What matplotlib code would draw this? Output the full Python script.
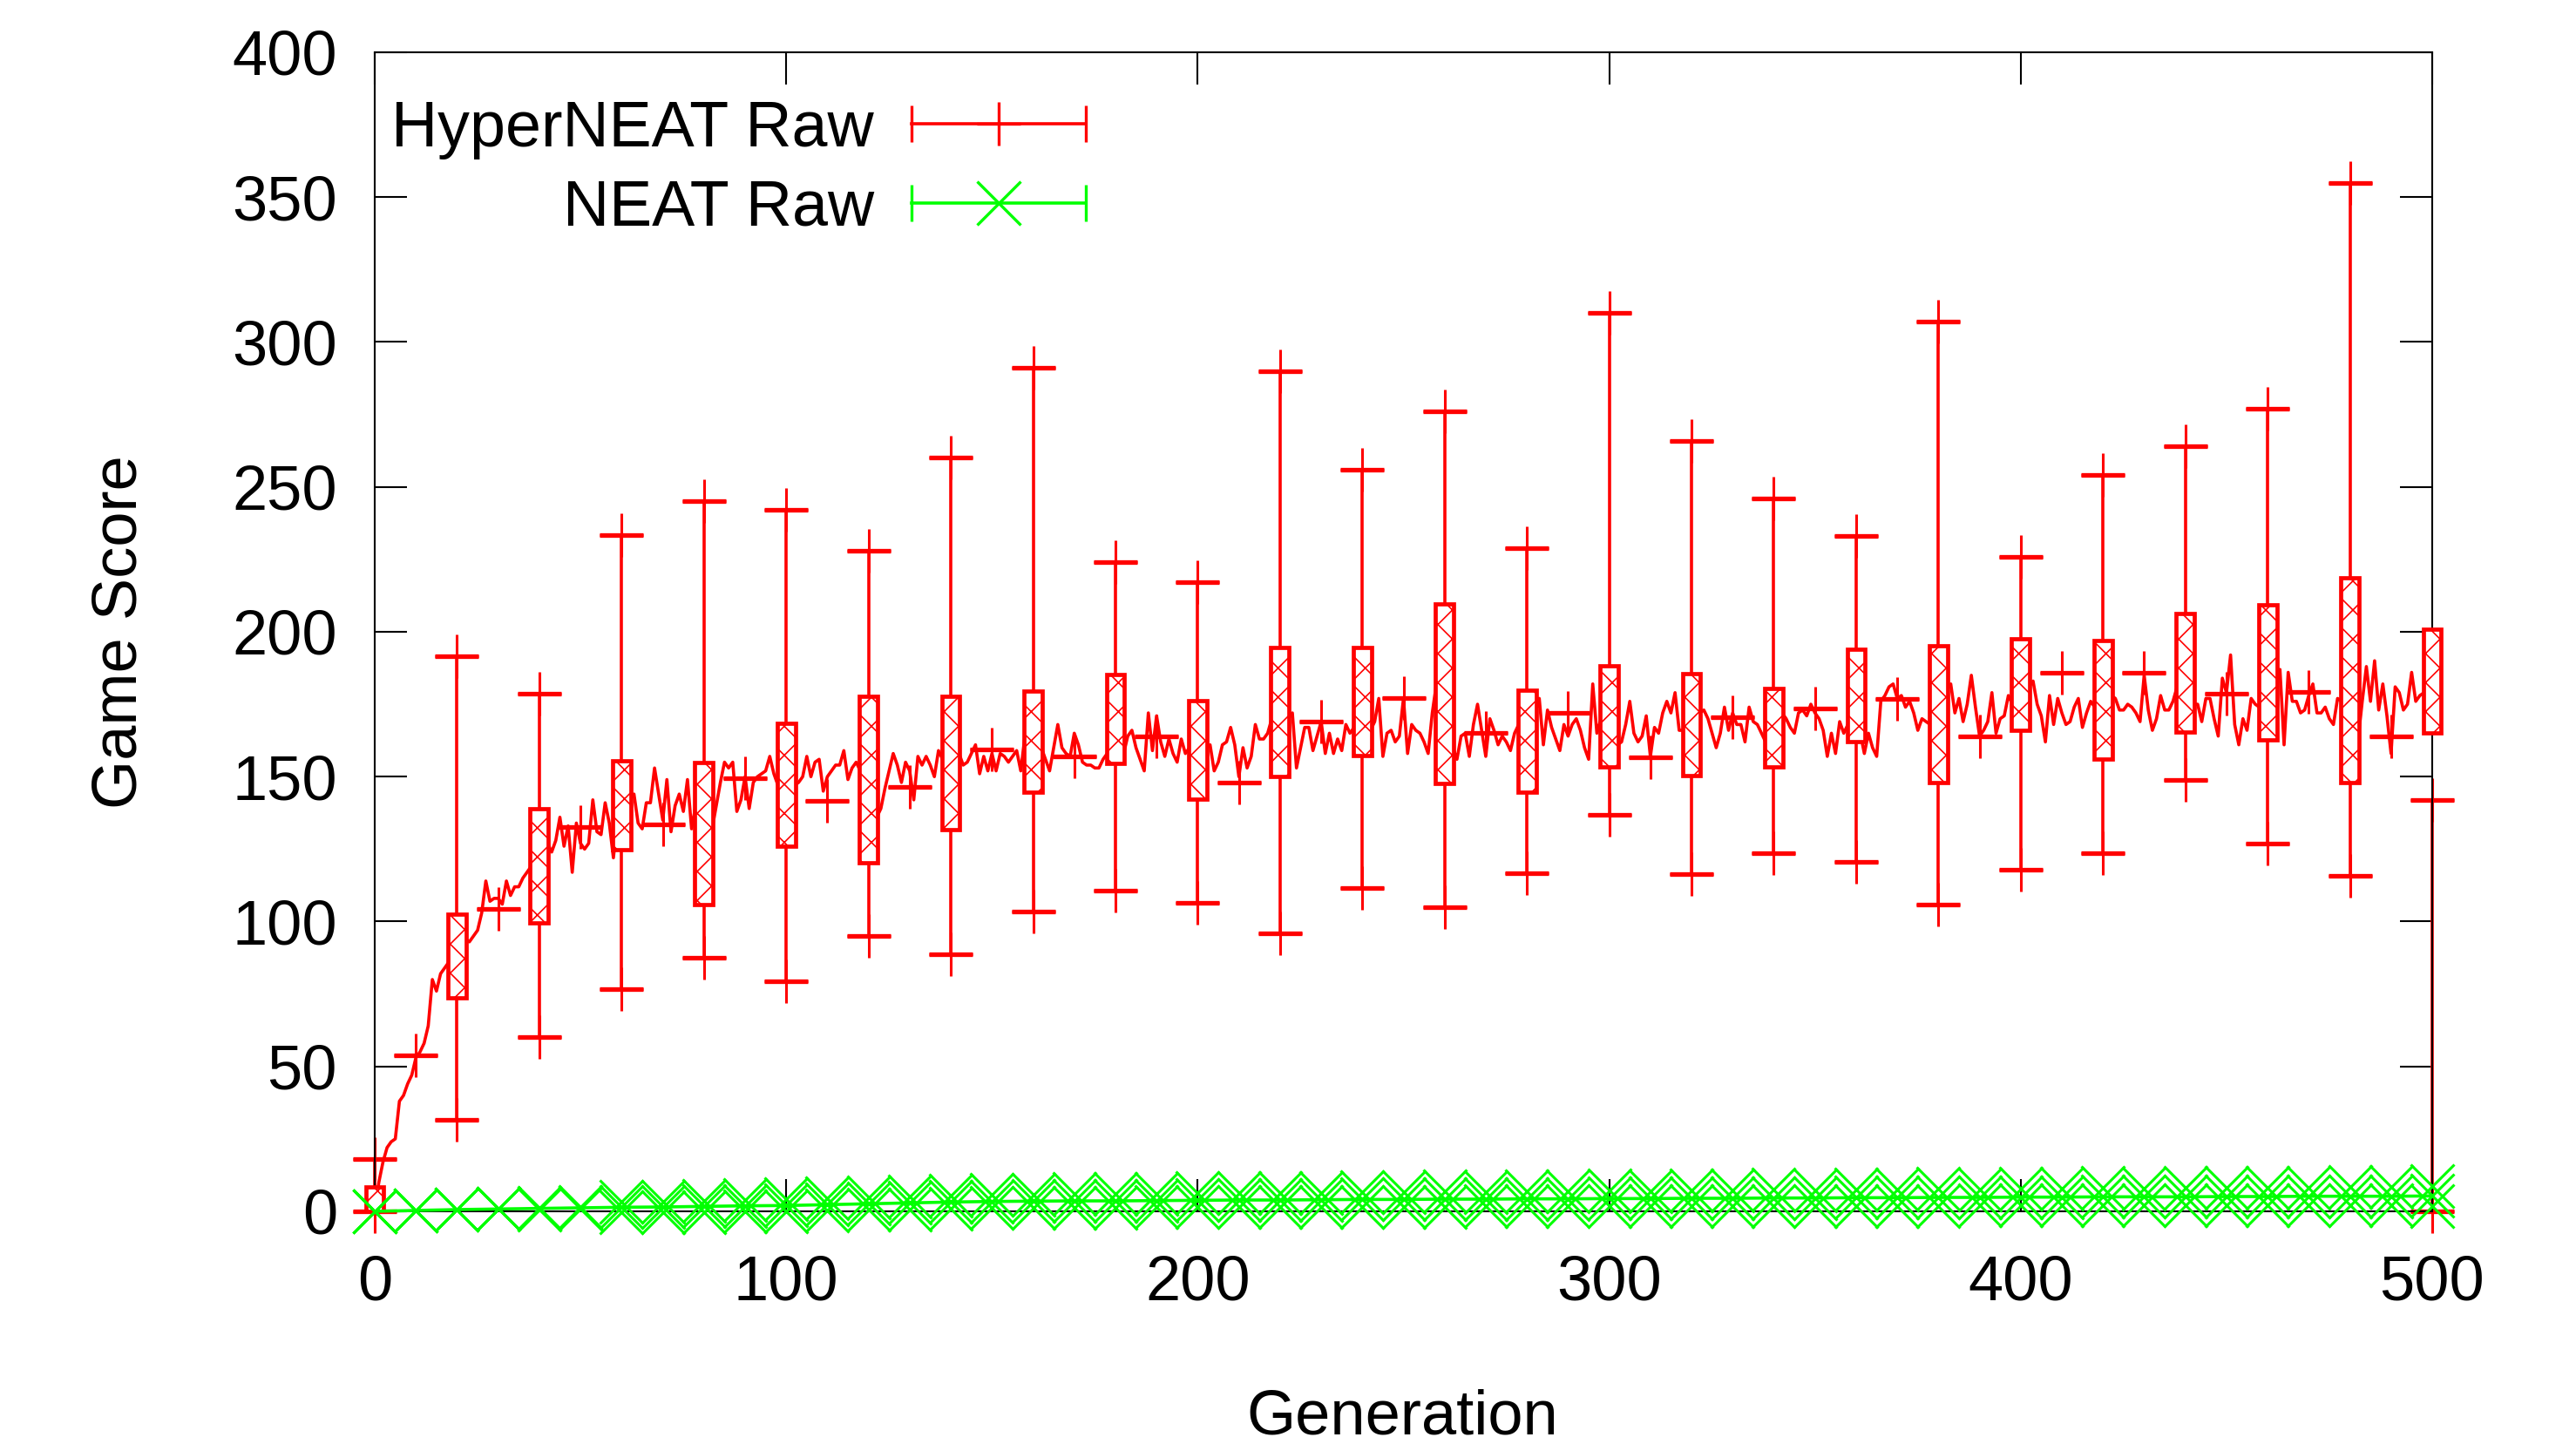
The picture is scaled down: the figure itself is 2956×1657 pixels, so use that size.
import numpy as np
import matplotlib
matplotlib.use("Agg")
import matplotlib.pyplot as plt
from matplotlib.patches import Rectangle

plt.rcParams['font.family'] = ['Liberation Sans', 'DejaVu Sans']
plt.rcParams['hatch.linewidth'] = 0.6

RED = '#ff0000'
GREEN = '#00ff00'

# HyperNEAT raw: mean score for every generation 0..500
hn_mean = [
    1, 10, 17, 22, 24, 25, 38, 40, 44, 47, 53, 55, 58, 64, 80, 76, 82, 84, 86, 88,
    90, 91, 94, 93, 95, 97, 103, 114, 107, 108, 108, 106, 114, 109, 112, 112, 115, 117, 119, 122,
    126, 128, 127, 124, 128, 136, 126, 133, 117, 134, 127, 125, 127, 142, 131, 130, 141, 134, 122, 135,
    140, 138, 142, 144, 134, 132, 141, 141, 153, 144, 135, 149, 131, 140, 144, 138, 149, 132, 140, 142,
    138, 136, 132, 140, 148, 155, 153, 155, 138, 142, 150, 139, 148, 150, 151, 152, 157, 151, 147, 150,
    148, 152, 147, 148, 150, 157, 150, 155, 156, 145, 150, 152, 154, 154, 159, 149, 153, 155, 152, 150,
    148, 146, 136, 139, 146, 152, 158, 154, 148, 155, 152, 142, 157, 154, 157, 154, 150, 159, 156, 155,
    157, 158, 158, 154, 155, 158, 161, 151, 157, 152, 158, 152, 158, 157, 155, 157, 159, 152, 164, 160,
    160, 158, 160, 156, 152, 160, 168, 160, 158, 157, 165, 161, 155, 154, 154, 153, 153, 156, 158, 160,
    162, 160, 158, 164, 166, 160, 156, 152, 172, 159, 171, 162, 157, 163, 158, 155, 163, 158, 160, 158,
    160, 161, 160, 161, 152, 155, 161, 162, 167, 161, 150, 160, 153, 157, 168, 163, 163, 165, 170, 168,
    166, 168, 170, 172, 153, 160, 167, 167, 159, 164, 169, 158, 165, 158, 163, 159, 168, 165, 167, 166,
    165, 168, 166, 169, 177, 157, 165, 166, 162, 164, 177, 158, 168, 166, 165, 162, 158, 172, 182, 175,
    168, 162, 160, 156, 164, 165, 157, 168, 175, 166, 157, 170, 166, 161, 164, 162, 159, 165, 168, 166,
    165, 168, 172, 177, 161, 173, 167, 163, 159, 168, 164, 168, 170, 166, 160, 156, 182, 165, 170, 168,
    166, 164, 161, 162, 168, 176, 165, 162, 164, 171, 157, 167, 165, 172, 176, 172, 179, 166, 166, 170,
    172, 174, 172, 173, 170, 165, 160, 165, 174, 166, 172, 168, 168, 162, 174, 169, 168, 165, 162, 168,
    170, 172, 172, 170, 167, 165, 172, 173, 171, 175, 172, 170, 166, 157, 165, 158, 169, 165, 168, 170,
    172, 165, 158, 165, 160, 157, 176, 178, 181, 182, 177, 178, 174, 176, 172, 166, 170, 169, 168, 172,
    175, 178, 180, 182, 172, 177, 169, 175, 185, 174, 164, 166, 169, 179, 165, 170, 171, 178, 175, 176,
    178, 180, 181, 183, 175, 171, 162, 178, 168, 177, 172, 168, 169, 174, 177, 167, 172, 176, 174, 175,
    176, 177, 178, 177, 173, 173, 175, 174, 172, 169, 185, 173, 166, 170, 178, 173, 173, 176, 181, 178,
    176, 174, 175, 175, 169, 177, 177, 170, 164, 184, 179, 192, 168, 161, 170, 166, 177, 175, 174, 178,
    180, 183, 185, 187, 161, 186, 176, 176, 172, 173, 178, 182, 172, 172, 174, 170, 168, 177, 176, 172,
    170, 168, 163, 176, 188, 176, 190, 173, 182, 171, 158, 181, 179, 173, 175, 186, 176, 178, 179, 177,
    178,
]
hn_gen = np.arange(len(hn_mean))

# candlesticks every 20 generations
box_gen = [0, 20, 40, 60, 80, 100, 120, 140, 160, 180, 200, 220, 240,
           260, 280, 300, 320, 340, 360, 380, 400, 420, 440, 460, 480, 500]
box_lo = [0, 31.5, 60, 76.6, 87.6, 79.4, 95, 88.7, 103.5, 110.7, 106.5, 96, 111.6,
          104.9, 116.7, 136.8, 116.3, 123.6, 120.6, 106, 118, 123.6, 148.9, 126.9, 115.8, 0]
box_q1 = [0, 73.8, 99.6, 124.8, 105.9, 126, 120.4, 131.8, 144.7, 154.6, 142.3, 150, 157.3,
          147.7, 144.8, 153.4, 150.4, 153.4, 162, 148, 166, 156, 165.4, 162.7, 148, 165]
box_q3 = [8.4, 102.6, 139, 155.6, 154.9, 168.4, 177.7, 177.6, 179.5, 185.3, 176.3, 194.7, 194.7,
          209.7, 179.8, 188.3, 185.6, 180.4, 194, 195.2, 197.7, 197, 206.4, 209.2, 218.5, 201]
box_hi = [18, 191.7, 178.5, 233.3, 245, 242, 228, 260, 291, 224, 217, 290, 256,
          276, 229, 310, 266, 246, 233, 307, 226, 254, 264, 277, 355, 142]

# single '+' marks in between
mid_gen = [10, 30, 50, 70, 90, 110, 130, 150, 170, 190, 210, 230, 250,
           270, 290, 310, 330, 350, 370, 390, 410, 430, 450, 470, 490]
mid_val = [53.8, 104.3, 132.6, 133.5, 149.5, 141.7, 146.5, 159.4, 157, 164, 148, 169, 177,
           165, 172, 156.7, 170.5, 173.5, 176.8, 164, 186, 185.8, 178.6, 179.2, 164]

# NEAT raw, every 10 generations
neat_gen = list(range(0, 501, 10))
neat_mean = [0.0, 0.3, 0.6, 0.8, 1.0, 1.2, 1.4, 1.5, 1.7, 1.9, 2.0, 2.3, 2.6, 2.9, 3.2, 3.4, 3.5,
             3.6, 3.6, 3.7, 3.8, 3.9, 3.9, 4.0, 4.1, 4.1, 4.2, 4.2, 4.3, 4.3, 4.4, 4.4, 4.5, 4.5,
             4.6, 4.6, 4.7, 4.7, 4.8, 4.8, 4.9, 4.9, 5.0, 5.0, 5.0, 5.1, 5.1, 5.2, 5.2, 5.2, 5.3]
neat_err = [0.0, 0.0, 0.0, 0.0, 0.3, 0.4, 1.8, 1.9, 2.0, 2.0, 2.1, 2.1, 2.1, 2.2, 2.2, 2.2, 2.3,
            2.3, 2.4, 2.3, 2.4, 2.4, 2.5, 2.4, 2.5, 2.5, 2.6, 2.5, 2.6, 2.6, 2.7, 2.6, 2.7, 2.7,
            2.8, 2.7, 2.8, 2.8, 2.9, 2.8, 2.9, 2.9, 3.0, 2.9, 3.0, 3.0, 3.1, 3.0, 3.2, 3.1, 3.5]

fig = plt.figure(figsize=(14.78, 8.285), dpi=200)
ax = fig.add_axes([0.14547, 0.16114, 0.79871, 0.80266])

# red mean line
ax.plot(hn_gen, hn_mean, color=RED, lw=1.3, zorder=2, clip_on=False)

# whiskers + caps
ax.vlines(box_gen, box_lo, box_hi, color=RED, lw=1.3, zorder=2, clip_on=False)
for vals in (box_lo, box_hi):
    ax.plot(box_gen, vals, ls='none', marker='+', ms=18, mew=1.1, color=RED, zorder=2, clip_on=False)
    ax.plot(box_gen, vals, ls='none', marker='_', ms=18, mew=1.9, color=RED, zorder=2, clip_on=False)
ax.plot(mid_gen, mid_val, ls='none', marker='+', ms=18, mew=1.1, color=RED, zorder=2)
ax.plot(mid_gen, mid_val, ls='none', marker='_', ms=18, mew=1.9, color=RED, zorder=2)

# hatched boxes
for g, q1, q3 in zip(box_gen, box_q1, box_q3):
    ax.add_patch(Rectangle((g - 2.2, q1), 4.4, q3 - q1, facecolor='white', edgecolor=RED,
                           lw=1.7, hatch='xx', zorder=3, clip_on=False))

# NEAT
neat_mean = np.array(neat_mean)
neat_err = np.array(neat_err)
ax.plot(neat_gen, neat_mean, color=GREEN, lw=1.3, zorder=4, clip_on=False)
for vals in (neat_mean, neat_mean + neat_err, neat_mean - neat_err):
    ax.plot(neat_gen, vals, ls='none', marker='x', ms=18, mew=1.1, color=GREEN, zorder=4, clip_on=False)

ax.set_xlim(0, 500)
ax.set_ylim(0, 400)
ax.set_xticks(range(0, 501, 100))
ax.set_yticks(range(0, 401, 50))
ax.tick_params(direction='in', length=13.3, width=0.75, top=True, right=True, labelsize=26)
ax.tick_params(axis='y', pad=15.5)
ax.tick_params(axis='x', pad=18)
for s in ax.spines.values():
    s.set_linewidth(0.75)

fig.text(1609 / 2956, 1 - 1645 / 1657, 'Generation', fontsize=26, ha='center', va='baseline')
fig.text(138 / 2956, 1 - 725 / 1657, 'Game Score', fontsize=26, ha='center', va='center', rotation=90)

# gnuplot-style key
tx = 0.2427
sx0, sx1 = 0.2609, 0.3456
sxm = (sx0 + sx1) / 2
rows = [('HyperNEAT Raw', RED, '+', 0.9188, 0.9383), ('NEAT Raw', GREEN, 'x', 0.8504, 0.8699)]
for label, col, mk, yb, ys in rows:
    ax.text(tx, yb, label, transform=ax.transAxes, fontsize=26.5, ha='right', va='baseline')
    ax.plot([sx0, sx1], [ys, ys], color=col, lw=1.3, transform=ax.transAxes, clip_on=False)
    ax.plot([sx0, sx1], [ys, ys], ls='none', marker='|', ms=14.8, mew=1.2, color=col,
            transform=ax.transAxes, clip_on=False)
    ax.plot([sxm], [ys], ls='none', marker=mk, ms=18, mew=1.2, color=col,
            transform=ax.transAxes, clip_on=False)

fig.savefig('out.png', dpi=200)
